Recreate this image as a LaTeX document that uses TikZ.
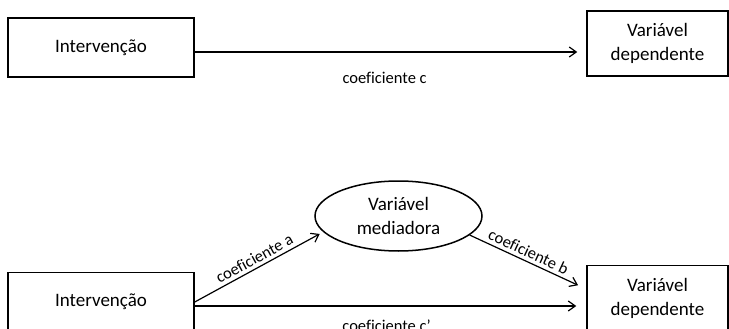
\documentclass[tikz,border=0pt]{standalone}
\usepackage{fontspec}
\setmainfont{Carlito}[Ligatures={TeX,NoCommon}]
\usetikzlibrary{shapes.geometric,arrows.meta}

\begin{document}
\begin{tikzpicture}[x=1pt,y=-1pt,
        caixa/.style={draw,line width=1.5pt,inner sep=0pt,minimum width=186pt,minimum height=59pt,align=center,font=\fontsize{19}{24}\selectfont},
        seta/.style={line width=1.2pt,-{Straight Barb[length=7pt,width=10pt]}},
        rotulo/.style={font=\fontsize{16.5}{20}\selectfont}]
        \useasboundingbox (0,0) rectangle (729,329);
        \node[caixa] (int1) at (101,47.5) {Intervenção};
        \node[caixa,minimum width=141pt,minimum height=65pt] (dep1) at (657.5,43.5) {Variável\\dependente};
        \node[caixa] (int2) at (101,302) {Intervenção};
        \node[caixa,minimum width=141pt,minimum height=65pt] (dep2) at (657.5,298) {Variável\\dependente};
        \node[caixa,ellipse,minimum width=167pt,minimum height=70pt] (med) at (398.5,216) {Variável\\mediadora};
        \draw[seta,shorten >=9pt] ([yshift=-4.5pt]int1.east) -- ([yshift=-4.5pt]int1.east -| dep1.west) node[rotulo,pos=0.485,below=16pt] {coeficiente c};
        \draw[seta,shorten >=4pt] (int2.east) -- (med.192) node[rotulo,midway,above,sloped] {coeficiente a};
        \draw[seta,shorten >=9pt] (med.-15) -- ([yshift=9pt]dep2.west) node[rotulo,pos=0.47,above,sloped] {coeficiente b};
        \draw[seta,shorten >=10pt] ([yshift=-4pt]int2.east) -- ([yshift=-4pt]int2.east -| dep2.west) node[rotulo,pos=0.49,below=10pt] {coeficiente c'};
    \end{tikzpicture}
\end{document}
